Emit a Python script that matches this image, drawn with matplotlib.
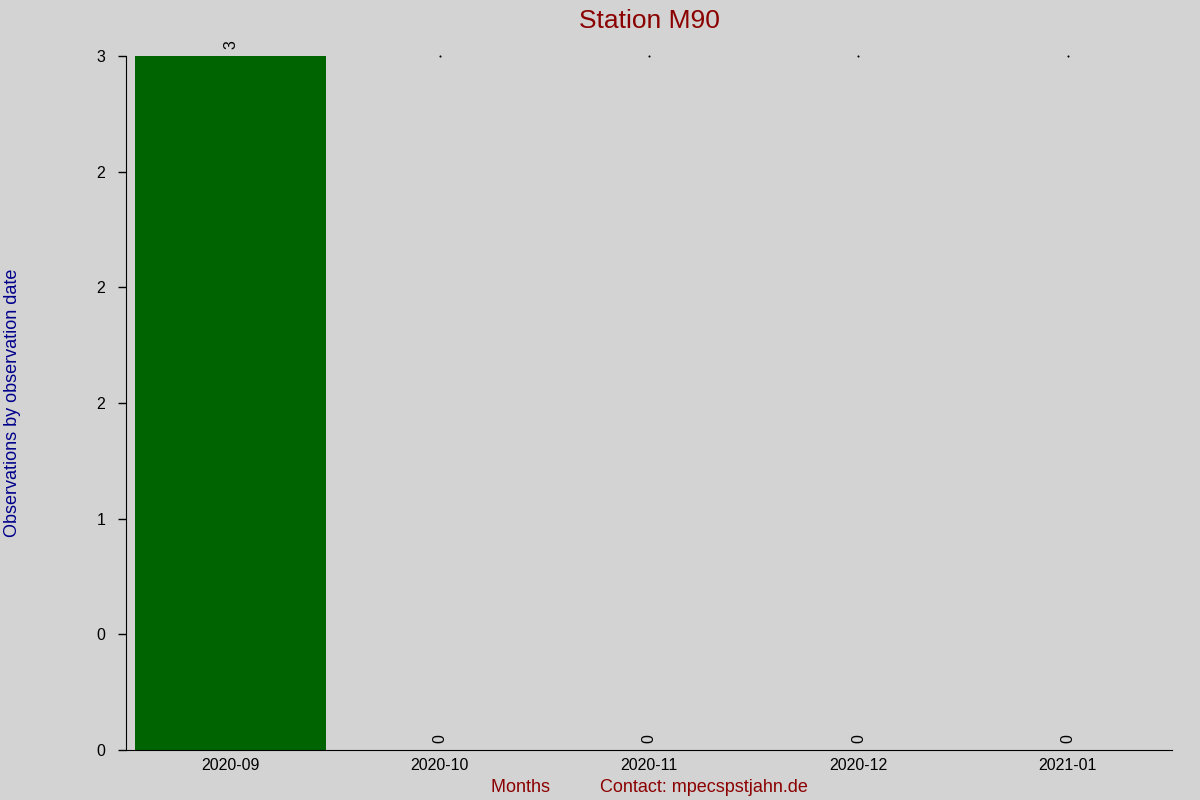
import matplotlib
matplotlib.use("Agg")
import matplotlib.pyplot as plt
from matplotlib.ticker import FuncFormatter
import numpy as np

months = ["2020-09", "2020-10", "2020-11", "2020-12", "2021-01"]
counts = [3, 0, 0, 0, 0]
yticks = [0, 0.5, 1, 1.5, 2, 2.5, 3]

plt.rcParams['font.family'] = ['Liberation Sans', 'DejaVu Sans']
bg = '#d3d3d3'

fig = plt.figure(figsize=(12, 8), dpi=100, facecolor=bg)
ax = fig.add_axes([0.105, 0.0625, 0.872, 0.8675])
ax.set_facecolor(bg)

x = np.arange(len(months))
ax.bar(x, counts, width=0.91, color='#006400')
ax.set_xlim(-0.5, len(months) - 0.5)
ax.set_ylim(0, max(counts))

# value labels, rotated
for xi, c in zip(x, counts):
    ax.text(xi, c + 0.03, str(c), rotation=90, ha='center', va='bottom',
            fontsize=11.5, color='black')
    if c == 0:
        ax.plot([xi], [max(counts)], marker='s', markersize=0.5, color='black',
                clip_on=False)

ax.set_xticks(x)
ax.set_xticklabels(months, fontsize=11.5)
ax.tick_params(axis='x', length=0, pad=6)
ax.set_yticks(yticks)
ax.yaxis.set_major_formatter(FuncFormatter(lambda v, p: "%d" % round(v)))
ax.tick_params(axis='y', length=6, width=1, labelsize=11.5, pad=9)

for s in ['top', 'right']:
    ax.spines[s].set_visible(False)
ax.spines['left'].set_bounds(0, max(counts))

ax.set_title("Station M90", color='#8b0000', fontsize=19, pad=20)
ax.set_xlabel("Months          Contact: mpecspstjahn.de", color='#8b0000',
              fontsize=13, labelpad=4)
ax.set_ylabel("Observations by observation date", color='#00008b', fontsize=13)
ax.yaxis.set_label_coords(-0.1, 0.5)

plt.savefig("out.png", dpi=100, facecolor=bg)
